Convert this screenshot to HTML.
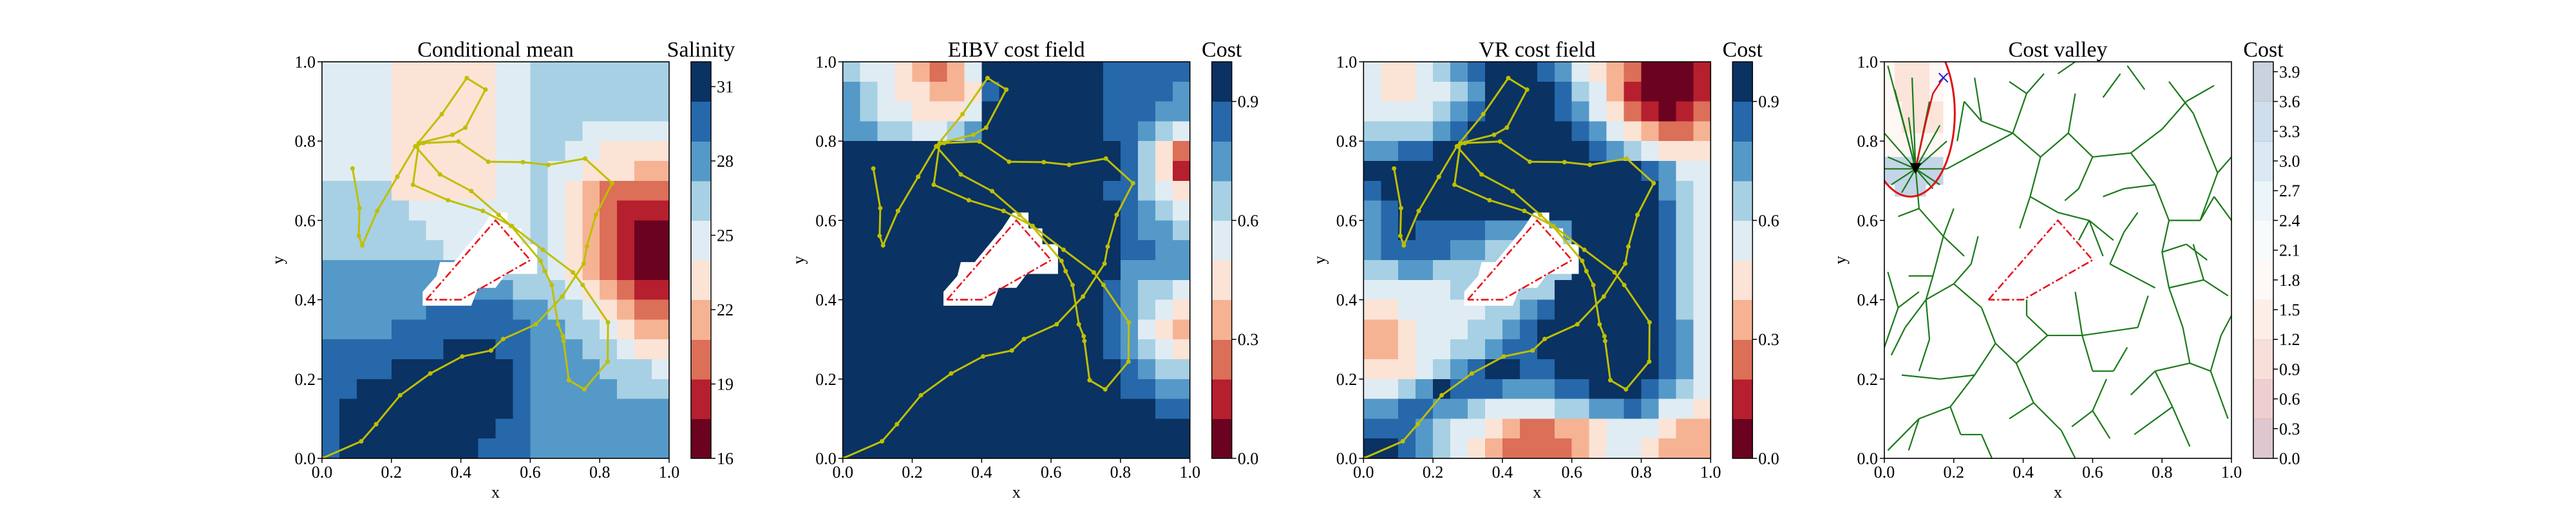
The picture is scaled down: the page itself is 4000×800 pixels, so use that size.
<!DOCTYPE html>
<html><head><meta charset="utf-8"><style>
html,body{margin:0;padding:0;background:#fff;}
svg{display:block;}
text{font-family:"Liberation Serif",serif;fill:#000;}
</style></head><body>
<svg id="fig" width="4000" height="800" viewBox="0 0 4000 800" xmlns="http://www.w3.org/2000/svg"></svg>
<script>
// ---------- data ----------
const panelTitles = ["Conditional mean","EIBV cost field","VR cost field","Cost valley"];
const cbLabels = ["Salinity","Cost","Cost","Cost"];
const axisTicks = [0.0,0.2,0.4,0.6,0.8,1.0];
const cbRanges = [[16,32],[0,1],[0,1],[0,4]];
const cbTickLists = [[16,19,22,25,28,31],[0.0,0.3,0.6,0.9],[0.0,0.3,0.6,0.9],[0.0,0.3,0.6,0.9,1.2,1.5,1.8,2.1,2.4,2.7,3.0,3.3,3.6,3.9]];
const levelColors = ["#6a0220","#b61f2e","#dc6f58","#f6b393","#fbe3d6","#e0ecf3","#a7d0e4","#5599c8","#2668aa","#0a3263"];
// level index grids (20x20, top row = y 0.975)
const salinityGrid = [
"55554444445566666666","55554444445566666666","55554444445566666666","55554444445566655555",
"55554444445566554444","55554444445565544433","66664444445565432222","66666555555565432111",
"66666655555565432100","66666665555565432100","77777777666665432100","77777777777666543211",
"77777788888776654322","77778888888877665433","88888889998877766544","88889999999877776665",
"88999999999877777666","89999999999877777777","89999999998877777777","89999999988877777777"];
const eibvGrid = [
"65543235999999988888","76544334899999988887","76554445999999988877","77665567999999988765",
"99999999999999998642","99999999999999998641","99999999999999988654","99999999999999998765",
"99999999999999998776","99999999999999998877","99999999999999997777","99999999999999987665",
"99999999999999987654","99999999999999987543","99999999999999987654","99999999999999998766",
"99999999999999998877","99999999999999999988","99999999999999999999","99999999999999999999"];
const vrGrid = [
"54456789998754320001","54455679999865310001","55556789999875421012","66667899999987543223",
"77889999999998765444","99999999999999998755","89999999999999999765","78999999999999999865",
"78988887777799999865","78888776666699999865","66776666666699999865","55555666666999999865",
"44555556678999999865","33455566789999999875","33455667889999999875","44456789988999999875",
"55679888777889998765","77887765555667787554","88876554322334555433","99876543222234554333"];
// AUV path (x, y)
const pathX = [0,0.113,0.156,0.225,0.312,0.404,0.487,0.522,0.616,0.692,0.754,0.763,0.789,0.836,0.758,0.652,0.579,0.479,0.393,0.292,0.269,0.34,0.43,0.509,0.545,0.63,0.642,0.662,0.68,0.694,0.696,0.711,0.756,0.823,0.824,0.751,0.723,0.636,0.547,0.463,0.363,0.262,0.279,0.376,0.413,0.471,0.417,0.345,0.269,0.217,0.159,0.116,0.106,0.108,0.088];
const pathY = [0,0.043,0.086,0.159,0.214,0.257,0.272,0.301,0.338,0.408,0.491,0.534,0.614,0.694,0.756,0.740,0.747,0.748,0.799,0.795,0.787,0.716,0.674,0.614,0.586,0.498,0.472,0.437,0.338,0.308,0.296,0.197,0.174,0.244,0.343,0.437,0.469,0.526,0.586,0.624,0.651,0.690,0.795,0.816,0.834,0.930,0.959,0.868,0.787,0.710,0.624,0.537,0.561,0.631,0.731];
const polyX = [0.3,0.5,0.6,0.4,0.3];
const polyY = [0.4,0.6,0.5,0.4,0.4];
const obstX = [0.29,0.29,0.33,0.34,0.38,0.46,0.49,0.535,0.535,0.575,0.575,0.62,0.62,0.53,0.5,0.45,0.43];
const obstY = [0.385,0.42,0.46,0.495,0.495,0.58,0.62,0.62,0.58,0.58,0.54,0.54,0.465,0.465,0.43,0.43,0.385];
// cost valley tree edges [x1,y1,x2,y2]
const treeEdges = [
[0.09,0.73,0.01,0.99],[0.09,0.73,0.03,0.93],[0.09,0.73,0.07,0.86],[0.09,0.73,0.08,0.96],[0.09,0.73,0.13,0.9],[0.09,0.73,0.16,0.84],[0.09,0.73,0.18,0.8],[0.09,0.73,0.0,0.82],[0.09,0.73,0.01,0.76],[0.09,0.73,0.18,0.73],[0.09,0.73,0.16,0.69],[0.09,0.73,0.02,0.69],[0.09,0.73,0.05,0.67],[0.09,0.73,0.14,0.68],[0.09,0.73,0.0,0.73],
[0.09,0.73,0.1,0.63],[0.1,0.63,0.04,0.61],[0.1,0.63,0.17,0.56],[0.17,0.56,0.23,0.51],[0.17,0.56,0.14,0.46],[0.14,0.46,0.12,0.4],[0.14,0.46,0.07,0.46],
[0.18,0.73,0.37,0.82],[0.37,0.82,0.45,0.76],[0.45,0.76,0.53,0.82],[0.53,0.82,0.55,0.92],[0.53,0.82,0.6,0.76],[0.6,0.76,0.71,0.77],[0.71,0.77,0.8,0.83],[0.8,0.83,0.87,0.9],[0.87,0.9,0.95,0.94],[0.71,0.77,0.78,0.69],[0.78,0.69,0.82,0.6],[0.82,0.6,0.8,0.52],[0.8,0.52,0.82,0.43],[0.82,0.43,0.86,0.33],[0.86,0.33,0.88,0.24],[0.88,0.24,0.94,0.22],[0.88,0.24,0.78,0.22],[0.78,0.22,0.71,0.16],[0.78,0.22,0.83,0.13],[0.83,0.13,0.88,0.03],[0.83,0.13,0.72,0.06],[0.94,0.22,0.99,0.1],[0.94,0.22,0.97,0.31],
[0.45,0.76,0.42,0.66],[0.42,0.66,0.39,0.58],[0.42,0.66,0.5,0.62],[0.5,0.62,0.59,0.6],[0.59,0.6,0.63,0.51],[0.59,0.6,0.66,0.55],[0.59,0.6,0.56,0.55],
[0.37,0.82,0.28,0.85],[0.28,0.85,0.23,0.9],[0.28,0.85,0.26,0.96],[0.37,0.82,0.41,0.92],[0.41,0.92,0.46,0.97],[0.41,0.92,0.36,0.95],[0.6,0.76,0.56,0.68],[0.56,0.68,0.52,0.65],
[0.12,0.4,0.06,0.33],[0.06,0.33,0.02,0.26],[0.12,0.4,0.2,0.44],[0.2,0.44,0.25,0.49],[0.2,0.44,0.28,0.38],[0.28,0.38,0.32,0.29],[0.32,0.29,0.38,0.24],[0.32,0.29,0.26,0.21],[0.26,0.21,0.19,0.13],[0.19,0.13,0.1,0.1],[0.1,0.1,0.01,0.02],[0.1,0.1,0.07,0.02],[0.19,0.13,0.22,0.06],[0.22,0.06,0.28,0.06],[0.26,0.21,0.16,0.2],[0.16,0.2,0.05,0.21],[0.38,0.24,0.43,0.14],[0.43,0.14,0.51,0.07],[0.43,0.14,0.36,0.1],[0.38,0.24,0.47,0.31],[0.47,0.31,0.57,0.31],[0.57,0.31,0.73,0.33],[0.57,0.31,0.6,0.22],[0.6,0.22,0.66,0.22],[0.57,0.31,0.55,0.42],[0.47,0.31,0.41,0.36],[0.41,0.36,0.41,0.4],
[0.65,0.49,0.78,0.43],[0.65,0.49,0.69,0.57],[0.69,0.57,0.73,0.62],[0.82,0.43,0.92,0.45],[0.92,0.45,0.99,0.41],[0.92,0.45,0.89,0.54],[0.8,0.52,0.87,0.54],[0.87,0.54,0.93,0.5],[0.82,0.6,0.91,0.6],[0.91,0.6,0.95,0.66],[0.91,0.6,0.96,0.72],[0.96,0.72,1.0,0.76],[0.95,0.66,1.0,0.6],[0.96,0.72,0.89,0.87],[0.89,0.87,0.82,0.95],[0.78,0.69,0.69,0.68],[0.69,0.68,0.63,0.66],
[0.0,0.28,0.04,0.38],[0.04,0.38,0.01,0.47],[0.04,0.38,0.1,0.42],[0.73,0.33,0.76,0.41],[0.25,0.49,0.27,0.56],[0.17,0.56,0.2,0.63],[0.12,0.4,0.13,0.3],[0.13,0.3,0.1,0.22],[0.65,0.05,0.6,0.12],[0.6,0.12,0.54,0.08],[0.6,0.12,0.64,0.2],
[0.28,0.06,0.31,0.0],[0.51,0.07,0.55,0.0],[0.66,0.22,0.7,0.28],[0.5,0.97,0.55,1.0],[0.63,0.91,0.68,0.97],[0.75,0.93,0.7,0.99],[0.23,0.9,0.21,0.8],[0.97,0.31,1.0,0.36]];
const pathRedX = [0.09,0.12,0.14,0.17];
const pathRedY = [0.73,0.85,0.92,0.96];
// cost cells near the vehicle [x0,y0,x1,y1,level]
const costCells = [[0,0.76,0.17,1.0,4],[0.03,0.9,0.13,1.0,3],[0.05,0.82,0.17,0.9,3],[0,0.69,0.17,0.76,8],[0.03,0.66,0.12,0.69,8]];

// ---------- drawing ----------
const NS="http://www.w3.org/2000/svg";
const svg=document.getElementById('fig');
const PL=[500,1308.7,2117.3,2926], AW=539, AT=96, AB=712, AH=AB-AT;
function mk(tag,attrs,parent){const e=document.createElementNS(NS,tag);for(const k in attrs)e.setAttribute(k,attrs[k]);(parent||svg).appendChild(e);return e;}
function fmt(v,p){return p==="int"?String(v):v.toFixed(1);}

for(let p=0;p<4;p++){
  const L=PL[p];
  const sx=v=>L+v*AW, sy=v=>AB-v*AH;
  const g=mk('g',{});
  
  
  const clipId='clip'+p;
  const cp=mk('clipPath',{id:clipId},g); mk('rect',{x:L,y:AT,width:AW,height:AH},cp);
  const plot=mk('g',{'clip-path':'url(#'+clipId+')'},g);
  
  
  const grid=[salinityGrid,eibvGrid,vrGrid,null][p];
  if(grid){
    for(let i=0;i<20;i++)for(let j=0;j<20;j++){
      const lv=+grid[i][j];
      const r=mk('rect',{x:sx(j/20),y:sy(1-i/20),width:AW/20+0.8,height:AH/20+0.8,fill:levelColors[lv],'shape-rendering':'crispEdges'},plot);
      
      
    }
    const ob=mk('polygon',{points:obstX.map((x,k)=>sx(x)+','+sy(obstY[k])).join(' '),fill:'#fff'},plot);
    
    
    const pl=mk('polyline',{points:pathX.map((x,k)=>sx(x)+','+sy(pathY[k])).join(' '),fill:'none',stroke:'#bfbf00','stroke-width':3},plot);
    
    
    for(let k=0;k<pathX.length;k++){
      const c=mk('circle',{cx:sx(pathX[k]),cy:sy(pathY[k]),r:3.5,fill:'#bfbf00'},plot);
      
      
    }
  } else {
    for(const c of costCells){
      const r=mk('rect',{x:sx(c[0]),y:sy(c[3]),width:sx(c[2])-sx(c[0]),height:sy(c[1])-sy(c[3]),fill:levelColors[c[4]],'fill-opacity':0.28},plot);
      
      
    }
    for(const e of treeEdges){
      const l=mk('line',{x1:sx(e[0]),y1:sy(e[1]),x2:sx(e[2]),y2:sy(e[3]),stroke:'#1a7a1a','stroke-width':2.2},plot);
      
      
    }
    const el=mk('ellipse',{cx:sx(0.075),cy:sy(0.87),rx:0.128*AW,ry:0.21*AH,fill:'none',stroke:'#e01010','stroke-width':3},plot);
    
    
    const rp=mk('polyline',{points:pathRedX.map((x,k)=>sx(x)+','+sy(pathRedY[k])).join(' '),fill:'none',stroke:'#e01010','stroke-width':2.5},plot);
    
    
    const tx=sx(0.09),ty=sy(0.73);
    const tri=mk('polygon',{points:`${tx-9},${ty-9} ${tx+9},${ty-9} ${tx},${ty+8}`,fill:'#000'},plot);
    
    
    const gx=sx(0.17),gy=sy(0.96);
    const xm=mk('path',{d:`M${gx-7},${gy-7}L${gx+7},${gy+7}M${gx-7},${gy+7}L${gx+7},${gy-7}`,stroke:'#2020dd','stroke-width':2},plot);
    
    
  }
  const rp=mk('polyline',{points:polyX.map((x,k)=>sx(x)+','+sy(polyY[k])).join(' '),fill:'none',stroke:'#e8141e','stroke-width':2.6,'stroke-dasharray':'12,4,3,4'},plot);
  
  
  // frame
  const fr=mk('rect',{x:L,y:AT,width:AW,height:AH,fill:'none',stroke:'#000','stroke-width':1.6},g);
  
  
  // ticks
  for(const t of axisTicks){
    mk('line',{x1:sx(t),y1:AB,x2:sx(t),y2:AB+7,stroke:'#000','stroke-width':1.5},g);
    const xt=mk('text',{x:sx(t),y:742,'font-size':26,'text-anchor':'middle'},g); xt.textContent=t.toFixed(1);
    
    
    mk('line',{x1:L-7,y1:sy(t),x2:L,y2:sy(t),stroke:'#000','stroke-width':1.5},g);
    const yt=mk('text',{x:L-10,y:sy(t)+9,'font-size':26,'text-anchor':'end'},g); yt.textContent=t.toFixed(1);
    
    
  }
  const xl=mk('text',{x:L+AW/2,y:773,'font-size':26,'text-anchor':'middle'},g); xl.textContent='x';
  
  
  const yl=mk('text',{x:0,y:0,'font-size':26,'text-anchor':'middle',transform:`translate(${L-60},${(AT+AB)/2}) rotate(-90)`},g); yl.textContent='y';
  
  
  const ti=mk('text',{x:L+AW/2,y:88,'font-size':34,'text-anchor':'middle'},g); ti.textContent=panelTitles[p];
  
  
  // colorbar
  const cbx=L+573, cbw=31;
  const cb=mk('g',{},g);
  
  
  for(let k=0;k<10;k++){
    const r=mk('rect',{x:cbx,y:AB-(k+1)*AH/10,width:cbw,height:AH/10+0.6,fill:levelColors[k],'fill-opacity':p===3?0.22:1,'shape-rendering':'crispEdges'},cb);
    
    
  }
  mk('rect',{x:cbx,y:AT,width:cbw,height:AH,fill:'none',stroke:'#000','stroke-width':1.5},cb);
  const [vmin,vmax]=cbRanges[p];
  for(const t of cbTickLists[p]){
    const yy=AB-(t-vmin)/(vmax-vmin)*AH;
    mk('line',{x1:cbx+cbw,y1:yy,x2:cbx+cbw+7,y2:yy,stroke:'#000','stroke-width':1.5},cb);
    const tl=mk('text',{x:cbx+cbw+9,y:yy+9,'font-size':26},cb); tl.textContent=fmt(t,p===0?"int":"f");
    
    
  }
  const cl=mk('text',{x:cbx+cbw/2,y:88,'font-size':34,'text-anchor':'middle'},cb); cl.textContent=cbLabels[p];
  
  
}
</script>
</body></html>
